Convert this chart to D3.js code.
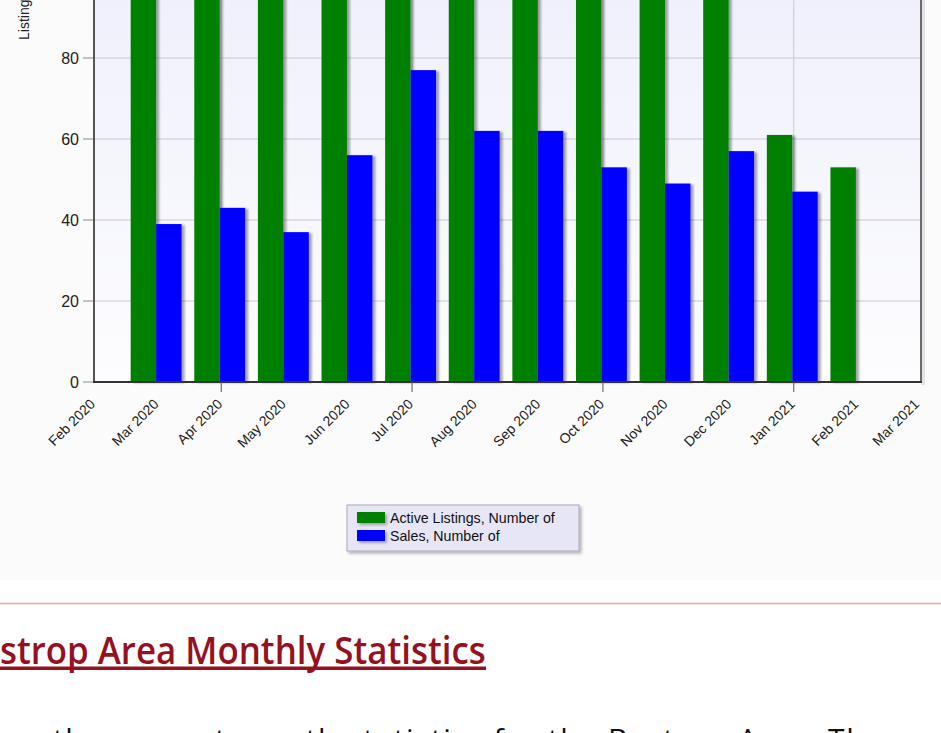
<!DOCTYPE html>
<html>
<head>
<meta charset="utf-8">
<script src="https://cdn.jsdelivr.net/npm/d3@7/dist/d3.min.js"></script>
<style>
  html, body { margin: 0; padding: 0; background: #ffffff; overflow: hidden; }
  svg { display: block; }
</style>
</head>
<body>
<svg id="chart" width="941" height="733"></svg>
<script>
// ---- data ----
const months = ["Mar 2020","Apr 2020","May 2020","Jun 2020","Jul 2020","Aug 2020","Sep 2020","Oct 2020","Nov 2020","Dec 2020","Jan 2021","Feb 2021"];
const activeListings = [182, 190, 186, 172, 154, 142, 136, 131, 124, 112, 61, 53];
const sales = [39, 43, 37, 56, 77, 62, 62, 53, 49, 57, 47, null];
const tickLabels = ["Feb 2020","Mar 2020","Apr 2020","May 2020","Jun 2020","Jul 2020","Aug 2020","Sep 2020","Oct 2020","Nov 2020","Dec 2020","Jan 2021","Feb 2021","Mar 2021"];
const quarterTicks = ["Apr 2020","Jul 2020","Oct 2020","Jan 2021"];
const yTicks = [0, 20, 40, 60, 80, 100, 120, 140, 160, 180, 200];
const seriesNames = ["Active Listings, Number of", "Sales, Number of"];
const seriesColors = ["#008000", "#0000ff"];
const yAxisTitle = "Listings";
const headingText = "Bastrop Area Monthly Statistics";
const bodyText = "the current month statistics for the Bastrop Area. The";

// ---- layout ----
const svg = d3.select("#chart");
const W = 941, H = 733;
const plot = { left: 94, right: 921, bottom: 382 };
const pxPerUnit = 4.05;
const yMax = 200;

const x = d3.scalePoint()
  .domain(tickLabels)
  .range([plot.left, plot.right]);
const y = d3.scaleLinear()
  .domain([0, yMax])
  .range([plot.bottom, plot.bottom - yMax * pxPerUnit]);
const plotTop = y(yMax);

const defs = svg.append("defs");
const grad = defs.append("linearGradient").attr("id", "bg").attr("x1", 0).attr("y1", 0).attr("x2", 0).attr("y2", 1);
grad.append("stop").attr("offset", "0%").attr("stop-color", "#e4e6f8");
grad.append("stop").attr("offset", "52%").attr("stop-color", "#eff0fb");
grad.append("stop").attr("offset", "100%").attr("stop-color", "#fdfdff");

const sh = defs.append("filter").attr("id", "shadow").attr("x", "-20%").attr("y", "-5%").attr("width", "150%").attr("height", "120%");
sh.append("feDropShadow").attr("dx", 3).attr("dy", 1).attr("stdDeviation", 1.3)
  .attr("flood-color", "#000").attr("flood-opacity", 0.35);
const sh2 = defs.append("filter").attr("id", "shadow2").attr("x", "-10%").attr("y", "-10%").attr("width", "130%").attr("height", "140%");
sh2.append("feDropShadow").attr("dx", 2).attr("dy", 2).attr("stdDeviation", 1.5)
  .attr("flood-color", "#000").attr("flood-opacity", 0.3);

// page area behind the chart
svg.append("rect").attr("x", 0).attr("y", 0).attr("width", W).attr("height", 580).attr("fill", "#fbfbfb");

// plot shadow on the right
svg.append("rect").attr("x", plot.right).attr("y", plotTop).attr("width", 4).attr("height", plot.bottom - plotTop + 3)
  .attr("fill", "#e2e2e2");

// plot background
svg.append("rect").attr("x", plot.left).attr("y", plotTop)
  .attr("width", plot.right - plot.left).attr("height", plot.bottom - plotTop)
  .attr("fill", "url(#bg)");

// horizontal grid
svg.append("g").selectAll("line").data(yTicks.filter(d => d > 0)).join("line")
  .attr("x1", plot.left).attr("x2", plot.right)
  .attr("y1", d => y(d)).attr("y2", d => y(d))
  .attr("stroke", "#c8c8d0").attr("stroke-width", 1);

// vertical grid at quarterly ticks
svg.append("g").selectAll("line").data(quarterTicks).join("line")
  .attr("x1", d => x(d)).attr("x2", d => x(d))
  .attr("y1", plotTop).attr("y2", plot.bottom)
  .attr("stroke", "#c8c8d0").attr("stroke-width", 1);

// bars
const bw = x.step() * 0.4;
const barsG = svg.append("g");
months.forEach((m, i) => {
  const cx = x(m) - 1.5;
  const a = activeListings[i];
  if (a != null) {
    barsG.append("rect").attr("x", cx - bw).attr("y", y(a)).attr("width", bw).attr("height", y(0) - y(a))
      .attr("fill", seriesColors[0]).attr("filter", "url(#shadow)");
  }
  const s = sales[i];
  if (s != null) {
    barsG.append("rect").attr("x", cx).attr("y", y(s)).attr("width", bw).attr("height", y(0) - y(s))
      .attr("fill", seriesColors[1]).attr("filter", "url(#shadow)");
  }
});

// axes lines
svg.append("line").attr("x1", plot.right).attr("x2", plot.right).attr("y1", plotTop).attr("y2", plot.bottom)
  .attr("stroke", "#6a6a6a").attr("stroke-width", 2);
svg.append("line").attr("x1", plot.left).attr("x2", plot.left).attr("y1", plotTop).attr("y2", plot.bottom + 1)
  .attr("stroke", "#555").attr("stroke-width", 2);
svg.append("line").attr("x1", plot.left - 1).attr("x2", plot.right + 1).attr("y1", plot.bottom).attr("y2", plot.bottom)
  .attr("stroke", "#333").attr("stroke-width", 2);

// y axis ticks + labels
const yAxisG = svg.append("g");
yAxisG.selectAll("line").data(yTicks).join("line")
  .attr("x1", plot.left - 11).attr("x2", plot.left - 1)
  .attr("y1", d => y(d)).attr("y2", d => y(d))
  .attr("stroke", "#888").attr("stroke-width", 1);
yAxisG.selectAll("text").data(yTicks).join("text")
  .attr("x", plot.left - 15).attr("y", d => y(d)).attr("dy", "0.36em")
  .attr("text-anchor", "end")
  .attr("font-family", "Liberation Sans, Arial, sans-serif").attr("font-size", 16)
  .attr("fill", "#222").text(d => d);

// y axis title
svg.append("text")
  .attr("transform", "translate(29,40) rotate(-90)")
  .attr("text-anchor", "start")
  .attr("font-family", "Liberation Sans, Arial, sans-serif").attr("font-size", 14)
  .attr("fill", "#222").text(yAxisTitle);

// x ticks (quarterly) below axis
svg.append("g").selectAll("line").data(quarterTicks).join("line")
  .attr("x1", d => x(d)).attr("x2", d => x(d))
  .attr("y1", plot.bottom).attr("y2", plot.bottom + 10)
  .attr("stroke", "#555").attr("stroke-width", 1);

// x labels
svg.append("g").selectAll("text").data(tickLabels).join("text")
  .attr("transform", (d, i) => `translate(${Math.min(x(d) + 2, plot.right - 1)},${plot.bottom + 23}) rotate(-45)`)
  .attr("text-anchor", "end")
  .attr("font-family", "Liberation Sans, Arial, sans-serif").attr("font-size", 14)
  .attr("fill", "#222").text(d => d);

// legend
const lg = svg.append("g");
lg.append("rect").attr("x", 347).attr("y", 505).attr("width", 232).attr("height", 46)
  .attr("fill", "#e6e6f6").attr("stroke", "#a8a8b8").attr("stroke-width", 1).attr("filter", "url(#shadow2)");
seriesNames.forEach((n, i) => {
  lg.append("rect").attr("x", 357).attr("y", 512 + i * 18).attr("width", 28).attr("height", 11)
    .attr("fill", seriesColors[i]).attr("filter", "url(#shadow2)");
  lg.append("text").attr("x", 390).attr("y", 523 + i * 18)
    .attr("font-family", "Liberation Sans, Arial, sans-serif").attr("font-size", 14.2)
    .attr("fill", "#111").text(n);
});

// horizontal rule
svg.append("line").attr("x1", 0).attr("x2", W).attr("y1", 603.5).attr("y2", 603.5)
  .attr("stroke", "#f0a4a4").attr("stroke-width", 1.5);

// heading (cut at left)
const head = svg.append("text")
  .attr("x", 0).attr("y", 664)
  .attr("font-family", "Open Sans, Noto Sans, sans-serif").attr("font-weight", 600)
  .attr("font-size", 37).attr("fill", "#94111f")
  .text(headingText);
const full = head.node().getComputedTextLength();
const pre = head.node().getSubStringLength(0, 2);
const targetW = 486;
const sc = targetW / (full - pre);
head.attr("transform", `translate(${-pre * sc},0) scale(${sc},1)`);
svg.append("rect").attr("x", 0).attr("y", 666.5).attr("width", targetW).attr("height", 3.5).attr("fill", "#94111f");

// body text (cut at bottom)
svg.append("text")
  .attr("x", 53).attr("y", 750)
  .attr("font-family", "Open Sans, Noto Sans, sans-serif")
  .attr("font-size", 30).attr("fill", "#111")
  .attr("textLength", 830).attr("lengthAdjust", "spacing")
  .text(bodyText);
</script>
</body>
</html>
